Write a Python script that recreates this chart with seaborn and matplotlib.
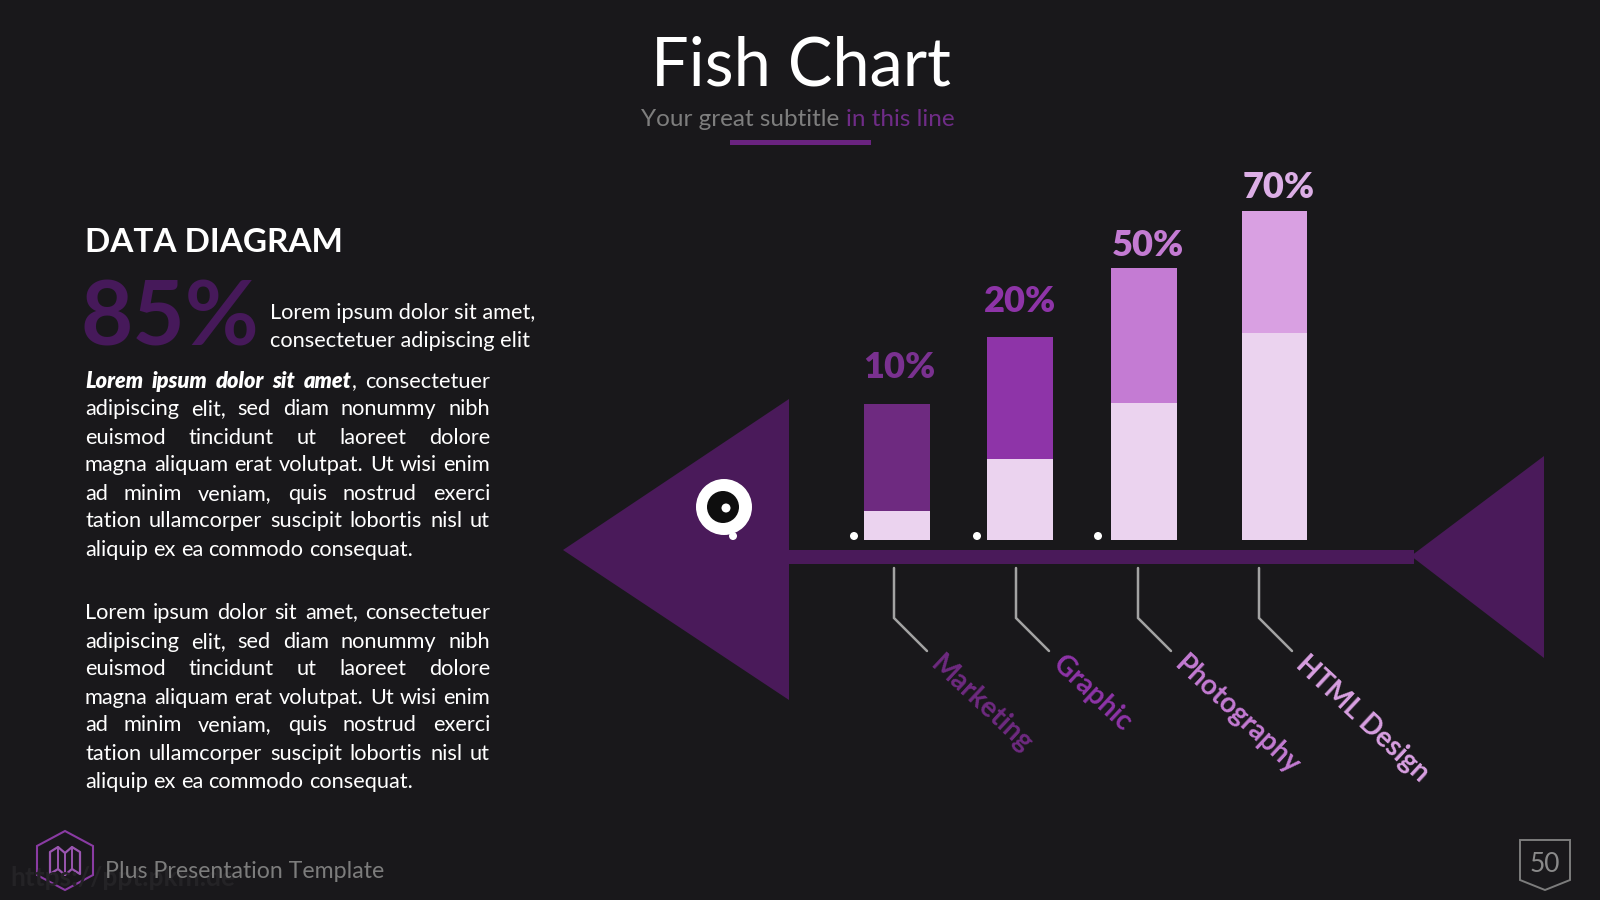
import matplotlib
matplotlib.use("Agg")
import matplotlib.pyplot as plt
import pandas as pd
import seaborn as sns
from matplotlib.patches import Circle, Polygon, Rectangle

# Data
categories = ["Marketing", "Graphic", "Photography", "HTML Design"]
pct_labels = ["10%", "20%", "50%", "70%"]
bar_totals = [136, 203, 272, 329]
bar_lower = [29, 81, 137, 207]

title = "Fish Chart"
heading = "DATA DIAGRAM"
big_number = "85%"
side_lines = ["Lorem ipsum dolor sit amet,", "consectetuer adipiscing elit"]
para_lines = [
    "adipiscing elit, sed diam nonummy nibh",
    "euismod tincidunt ut laoreet dolore",
    "magna aliquam erat volutpat. Ut wisi enim",
    "ad minim veniam, quis nostrud exerci",
    "tation ullamcorper suscipit lobortis nisl ut",
    "aliquip ex ea commodo consequat.",
]

BG = "#19181b"
FISH = "#4a1a5a"
LIGHT = "#ebd3ef"
bar_colors = ["#6e2a80", "#8e34a8", "#c47bd3", "#d9a0e2"]
label_colors = ["#6e2a80", "#8e34a8", "#c47bd3", "#d9a0e2"]
pct_colors = ["#7a3190", "#8e34a8", "#c47bd3", "#dcaee6"]

# Layout in slide pixels
bar_x = [897, 1020, 1144, 1274.5]
label_x = [899, 1020, 1148, 1279]
label_gap = [37, 36, 23, 24]
BASE_Y = 540

sns.set_theme(style="dark", rc={"figure.facecolor": BG, "savefig.facecolor": BG})
plt.rcParams["font.family"] = ["Lato", "DejaVu Sans"]

fig = plt.figure(figsize=(16, 9), dpi=100)
fig.patch.set_facecolor(BG)

# Full slide overlay, y runs downwards like pixel coordinates
ax = fig.add_axes([0, 0, 1, 1], zorder=1)
ax.set_xlim(0, 1600)
ax.set_ylim(900, 0)
ax.axis("off")

# Bars sit on their own axes, y=0 is the base line of the chart
ax_bars = fig.add_axes([0, 1 - BASE_Y / 900, 1, BASE_Y / 900], zorder=2)
df = pd.DataFrame({"x": bar_x, "cat": categories, "total": bar_totals, "lower": bar_lower})
sns.barplot(data=df, x="x", y="total", hue="cat", palette=bar_colors, native_scale=True, width=0.533,
            dodge=False, saturation=1, linewidth=0, legend=False, ax=ax_bars)
sns.barplot(data=df, x="x", y="lower", color=LIGHT, native_scale=True, width=0.533,
            saturation=1, linewidth=0, legend=False, ax=ax_bars)
ax_bars.set_xlim(0, 1600)
ax_bars.set_ylim(0, BASE_Y)
ax_bars.axis("off")
ax_bars.patch.set_alpha(0)

for x, total, gap, txt, col in zip(label_x, bar_totals, label_gap, pct_labels, pct_colors):
    ax_bars.text(x, total + gap, txt, color=col, fontsize=26, fontweight="heavy", ha="center", va="center")

# Fish body
ax.add_patch(Polygon([(563, 550), (789, 399), (789, 700)], color=FISH, lw=0))
ax.add_patch(Rectangle((789, 550), 625, 14, color=FISH, lw=0))
ax.add_patch(Polygon([(1411, 556), (1544, 456), (1544, 658)], color=FISH, lw=0))
ax.add_patch(Circle((724, 507), 28, color="white", lw=0))
ax.add_patch(Circle((723, 507), 16, color="#0e0e0e", lw=0))
ax.add_patch(Circle((726, 508), 4.5, color="white", lw=0))
ax.add_patch(Circle((733, 536), 4, color="white", lw=0))
for x in [854, 977, 1098]:
    ax.add_patch(Circle((x, 536), 4, color="white", lw=0))

# Bones and rotated names
for x, name, col in zip([894, 1016, 1138, 1259], categories, label_colors):
    ax.plot([x, x, x + 33], [568, 618, 651], color="#a3a3a3", lw=1.8, solid_joinstyle="miter")
    ax.text(x + 41, 660, name, color=col, fontsize=20, fontweight="bold", rotation=-43,
            rotation_mode="anchor", ha="left", va="center")

# Header
ax.text(801, 67, title, color="white", fontsize=48, ha="center", va="center")
sub1 = ax.text(641, 119, "Your great subtitle ", color="#7e7e7e", fontsize=17.5, va="center")
fig.canvas.draw()
renderer = fig.canvas.get_renderer()


def text_w(artist):
    return artist.get_window_extent(renderer).width


ax.text(641 + text_w(sub1), 119, "in this line", color="#6f2c87", fontsize=17.5, va="center")
ax.add_patch(Rectangle((730, 140), 141, 5, color="#6a2380", lw=0))

# Left column
ax.text(85, 242, heading, color="white", fontsize=24, fontweight="bold", va="center")
ax.text(80, 320, big_number, color="#46195a", fontsize=65, fontweight="bold", va="center")
for y, line in zip([313, 341], side_lines):
    ax.text(270, y, line, color="white", fontsize=15.7, va="center")


def justified(words, y, x0=85, x1=490, stretch=True, size=15.7):
    # words: list of (text, kwargs); a word starting with a comma is glued to the previous one
    arts = [ax.text(x0, y, w, color="white", fontsize=size, va="center", **kw) for w, kw in words]
    widths = [text_w(a) for a in arts]
    n_gaps = sum(1 for w, _ in words[1:] if not w.startswith(","))
    gap = (x1 - x0 - sum(widths)) / n_gaps if stretch else 5.3
    x = x0
    for i, (a, wd) in enumerate(zip(arts, widths)):
        if i > 0 and not words[i][0].startswith(","):
            x += gap
        a.set_x(x)
        x += wd


bi = {"fontweight": "heavy", "fontstyle": "italic"}
first = [(w, bi) for w in "Lorem ipsum dolor sit amet".split()] + [(",", {}), ("consectetuer", {})]
plain_first = "Lorem ipsum dolor sit amet, consectetuer"

para1_y = [409, 438, 465, 494, 521, 550]
para2_y = [642, 669, 698, 725, 754, 782]
justified(first, 382)
justified([(w, {}) for w in plain_first.split()], 613)
for ys in (para1_y, para2_y):
    for i, (y, line) in enumerate(zip(ys, para_lines)):
        justified([(w, {}) for w in line.split()], y, stretch=i < len(para_lines) - 1)

# Footer
ax.text(10, 878, "https://ppt.pkm.de", color="#242326", fontsize=19, fontweight="bold", va="center")
ax.add_patch(Polygon([(65, 831), (93, 846), (93, 875), (65, 890), (37, 875), (37, 846)],
                     closed=True, fill=False, ec="#8a3ba3", lw=1.5))
ax.plot([50, 50, 58, 65, 72, 80, 80, 72, 65, 58, 50], [874, 852, 847, 853, 847, 852, 874, 869, 875, 869, 874],
        color="#9a55b0", lw=1.6)
ax.plot([58, 58], [847, 869], color="#9a55b0", lw=1.4)
ax.plot([65, 65], [853, 875], color="#9a55b0", lw=1.4)
ax.plot([72, 72], [847, 869], color="#9a55b0", lw=1.4)
ax.text(105, 872, "Plus Presentation Template", color="#7c7c7c", fontsize=16.7, va="center")
ax.add_patch(Polygon([(1520, 840), (1570, 840), (1570, 880), (1545, 890), (1520, 880)],
                     closed=True, fill=False, ec="#7c7c7c", lw=1.4))
ax.text(1545, 865, "50", color="#8a8a8a", fontsize=19, ha="center", va="center")

fig.savefig("out.png", dpi=100)
